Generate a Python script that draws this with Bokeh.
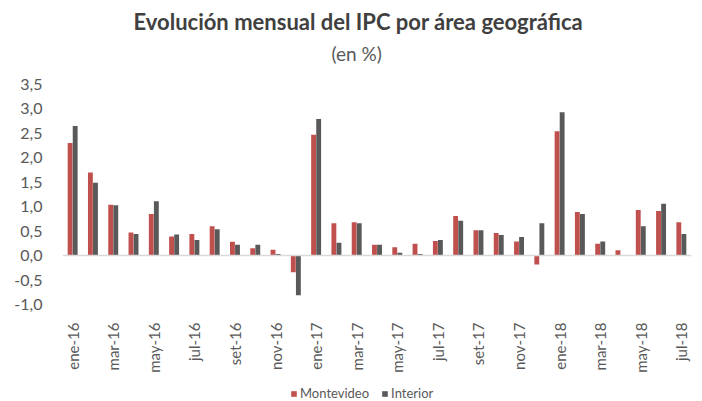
from bokeh.plotting import figure
from bokeh.layouts import column
from bokeh.models import (ColumnDataSource, Range1d, Span, Legend, LegendItem,
                          Title, FixedTicker, CustomJSTickFormatter)
from bokeh.transform import dodge
from bokeh.embed import file_html
from bokeh.resources import INLINE

months = ["ene-16", "feb-16", "mar-16", "abr-16", "may-16", "jun-16", "jul-16", "ago-16",
          "set-16", "oct-16", "nov-16", "dic-16",
          "ene-17", "feb-17", "mar-17", "abr-17", "may-17", "jun-17", "jul-17", "ago-17",
          "set-17", "oct-17", "nov-17", "dic-17",
          "ene-18", "feb-18", "mar-18", "abr-18", "may-18", "jun-18", "jul-18"]
montevideo = [2.30, 1.70, 1.04, 0.47, 0.85, 0.39, 0.44, 0.60, 0.28, 0.15, 0.12, -0.34,
              2.47, 0.66, 0.68, 0.22, 0.17, 0.24, 0.30, 0.81, 0.52, 0.46, 0.29, -0.18,
              2.54, 0.89, 0.24, 0.11, 0.93, 0.91, 0.68]
interior = [2.65, 1.49, 1.03, 0.44, 1.11, 0.43, 0.32, 0.54, 0.22, 0.22, 0.03, -0.81,
            2.79, 0.26, 0.66, 0.22, 0.06, 0.03, 0.32, 0.71, 0.52, 0.42, 0.38, 0.66,
            2.93, 0.85, 0.29, 0.00, 0.60, 1.06, 0.44]
y_ticks = [-1.0, -0.5, 0.0, 0.5, 1.0, 1.5, 2.0, 2.5, 3.0, 3.5]
series_names = ["Montevideo", "Interior"]
colors = ["#C0504D", "#595959"]

FONT = "Lato"
TXT = "#595959"
W = 700

idx = list(range(len(months)))
src = ColumnDataSource(dict(idx=idx, month=months, montevideo=montevideo, interior=interior))

p = figure(width=W, height=378, x_range=Range1d(-0.5, len(months) - 0.5),
           y_range=Range1d(-1.0, 3.905),
           output_backend="svg", toolbar_location=None,
           min_border_left=62, min_border_right=9, min_border_top=0, min_border_bottom=74)
p.outline_line_color = None
p.xgrid.grid_line_color = None
p.ygrid.grid_line_color = None

r1 = p.vbar(x=dodge("idx", -0.125), top="montevideo", width=0.24,
            source=src, fill_color=colors[0], line_color=None)
r2 = p.vbar(x=dodge("idx", 0.125), top="interior", width=0.24,
            source=src, fill_color=colors[1], line_color=None)

p.add_layout(Span(location=0, dimension="width", line_color="#D9D9D9", line_width=1.5))

# y axis
p.yaxis.ticker = FixedTicker(ticks=y_ticks)
p.yaxis.formatter = CustomJSTickFormatter(code="return tick.toFixed(1).replace('.', ',');")
p.yaxis.axis_line_color = None
p.yaxis.major_tick_line_color = None
p.yaxis.minor_tick_line_color = None
p.yaxis.major_label_text_font = FONT
p.yaxis.major_label_text_font_size = "16px"
p.yaxis.major_label_text_color = TXT
p.yaxis.major_label_standoff = 14

# x axis
p.xaxis.ticker = FixedTicker(ticks=idx[::2])
p.xaxis.major_label_overrides = {i: months[i] for i in idx[::2]}
p.xaxis.major_label_orientation = 1.5708
p.xaxis.axis_line_color = None
p.xaxis.major_tick_line_color = None
p.xaxis.minor_tick_line_color = None
p.xaxis.major_label_text_font = FONT
p.xaxis.major_label_text_font_size = "15px"
p.xaxis.major_label_text_color = TXT
p.xaxis.major_label_standoff = 12

p.add_layout(Title(text="(en %)", align="left", offset=269, text_font=FONT,
                   text_font_size="19px", text_font_style="normal", text_color=TXT,
                   standoff=0), "above")
p.add_layout(Title(text="Evolución mensual del IPC por área geográfica", align="left",
                   offset=71, text_font=FONT, text_font_size="22px",
                   text_font_style="bold", text_color="#404040", standoff=10), "above")

# legend strip: same series, drawn out of view so that only the legend shows
lg = figure(width=W, height=23, x_range=Range1d(-0.5, len(months) - 0.5),
            y_range=Range1d(10, 11),
            output_backend="svg", toolbar_location=None, x_axis_type=None, y_axis_type=None,
            min_border=0)
lg.outline_line_color = None
lg.xgrid.grid_line_color = None
lg.ygrid.grid_line_color = None
l1 = lg.vbar(x=dodge("idx", -0.125), top="montevideo", width=0.24, source=src,
             fill_color=colors[0], line_color=None)
l2 = lg.vbar(x=dodge("idx", 0.125), top="interior", width=0.24, source=src,
             fill_color=colors[1], line_color=None)
legend = Legend(items=[LegendItem(label=series_names[0], renderers=[l1]),
                       LegendItem(label=series_names[1], renderers=[l2])],
                orientation="horizontal", location=(228, 0),
                label_text_font=FONT, label_text_font_size="13px", label_text_color=TXT,
                glyph_width=7, glyph_height=7, spacing=12, padding=0, margin=0,
                label_standoff=3, border_line_color=None, background_fill_alpha=0)
lg.add_layout(legend)

open("out.html", "w").write(file_html(column(p, lg, spacing=0), INLINE))
